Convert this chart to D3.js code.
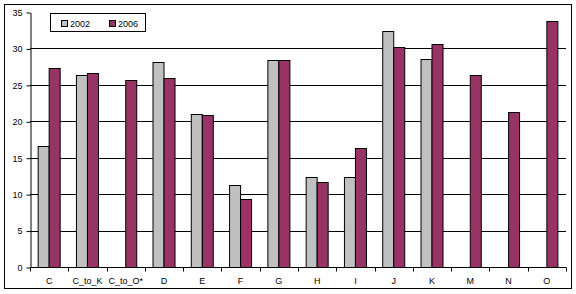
<!DOCTYPE html>
<html>
<head>
<meta charset="utf-8">
<script src="https://cdn.jsdelivr.net/npm/d3@7"></script>
<style>
  body { margin: 0; background: #fff; }
  text { font-family: Arial, "Liberation Sans", sans-serif; font-size: 9px; fill: #000; }
</style>
</head>
<body>
<div id="chart"></div>
<script>
// chart data
const categories = ['C', 'C_to_K', 'C_to_O*', 'D', 'E', 'F', 'G', 'H', 'I', 'J', 'K', 'M', 'N', 'O'];
const seriesNames = ['2002', '2006'];
const values2002 = [16.6, 26.4, null, 28.1, 21.0, 11.2, 28.4, 12.4, 12.3, 32.4, 28.6, null, null, null];
const values2006 = [27.3, 26.6, 25.6, 25.9, 20.8, 9.4, 28.4, 11.7, 16.4, 30.2, 30.6, 26.4, 21.3, 33.7];
const yTicks = [0, 5, 10, 15, 20, 25, 30, 35];
const colors = ['#c0c0c0', '#993366'];

const width = 576, height = 294;
const margin = { left: 30, right: 10, top: 12, bottom: 27 };

const svg = d3.select('#chart')
    .append('svg')
    .attr('width', width)
    .attr('height', height);

// outer frame
svg.append('rect')
    .attr('x', 4.5)
    .attr('y', 4.5)
    .attr('width', width - 9)
    .attr('height', height - 10)
    .attr('fill', '#fff')
    .attr('stroke', '#000')
    .attr('stroke-width', 1);

const x = d3.scaleBand()
    .domain(categories)
    .range([margin.left, width - margin.right])
    .paddingInner(0.4)
    .paddingOuter(0.2);

const xInner = d3.scaleBand()
    .domain(seriesNames)
    .range([0, x.bandwidth()]);

const y = d3.scaleLinear()
    .domain([0, 35])
    .range([height - margin.bottom, margin.top]);

// gridlines
svg.append('g')
    .selectAll('line')
    .data(yTicks.filter(d => d > 0 && d < 35))
    .join('line')
    .attr('x1', margin.left)
    .attr('x2', width - margin.right)
    .attr('y1', d => Math.round(y(d)) + 0.5)
    .attr('y2', d => Math.round(y(d)) + 0.5)
    .attr('stroke', '#000')
    .attr('stroke-width', 1);

// bars
const series = [values2002, values2006];
const groups = svg.append('g')
    .selectAll('g')
    .data(categories)
    .join('g')
    .attr('transform', d => `translate(${x(d)},0)`);

groups.selectAll('rect')
    .data((d, i) => seriesNames.map((s, j) => ({ s, v: series[j][i] })).filter(e => e.v != null))
    .join('rect')
    .attr('x', d => Math.round(xInner(d.s)) + 0.5)
    .attr('y', d => Math.round(y(d.v)) + 0.5)
    .attr('width', Math.round(xInner.bandwidth()))
    .attr('height', d => Math.round(y(0)) - Math.round(y(d.v)))
    .attr('fill', d => colors[seriesNames.indexOf(d.s)])
    .attr('stroke', '#000')
    .attr('stroke-width', 1);

// y axis
const yAxis = svg.append('g')
    .attr('transform', `translate(${margin.left + 0.5},0.5)`)
    .call(d3.axisLeft(y).tickValues(yTicks).tickSize(4).tickPadding(4).tickSizeOuter(0));
yAxis.selectAll('path, line').attr('stroke', '#000');
yAxis.selectAll('text').style('font-size', '9px').attr('font-family', null);

// x axis with ticks between categories
const xAxisG = svg.append('g')
    .attr('transform', `translate(0,${Math.round(y(0)) + 0.5})`);
xAxisG.append('line')
    .attr('x1', margin.left)
    .attr('x2', width - margin.right)
    .attr('stroke', '#000');
const step = x.step();
const bounds = d3.range(categories.length + 1).map(i => margin.left + i * (width - margin.left - margin.right) / categories.length);
xAxisG.selectAll('.tk')
    .data(bounds)
    .join('line')
    .attr('class', 'tk')
    .attr('x1', d => Math.round(d) + 0.5)
    .attr('x2', d => Math.round(d) + 0.5)
    .attr('y1', 0)
    .attr('y2', 4)
    .attr('stroke', '#000');
xAxisG.selectAll('text')
    .data(categories)
    .join('text')
    .attr('x', d => x(d) + x.bandwidth() / 2)
    .attr('y', 16)
    .attr('text-anchor', 'middle')
    .text(d => d);

// legend
const legend = svg.append('g').attr('transform', 'translate(50,13)');
legend.append('rect')
    .attr('x', 0.5)
    .attr('y', 0.5)
    .attr('width', 95)
    .attr('height', 18)
    .attr('fill', '#fff')
    .attr('stroke', '#000');
seriesNames.forEach((s, i) => {
    const lx = 11 + i * 48;
    legend.append('rect')
        .attr('x', lx + 0.5)
        .attr('y', 7.5)
        .attr('width', 6)
        .attr('height', 6)
        .attr('fill', colors[i])
        .attr('stroke', '#000');
    legend.append('text')
        .attr('x', lx + 9)
        .attr('y', 13.5)
        .text(s);
});
</script>
</body>
</html>
